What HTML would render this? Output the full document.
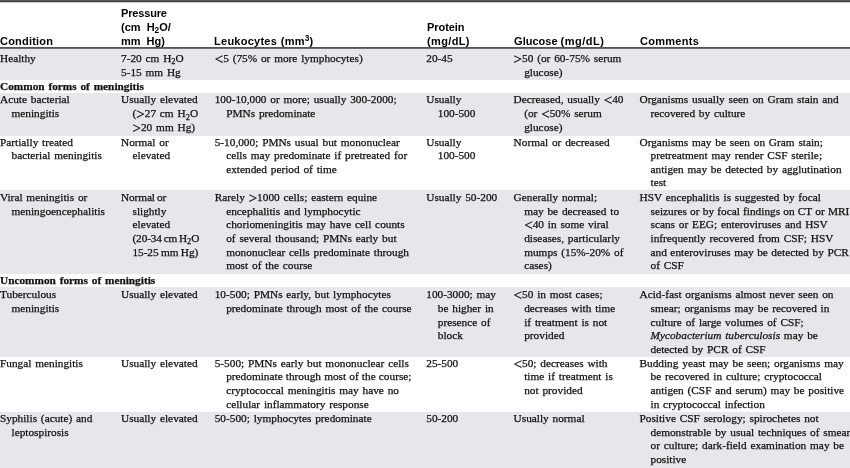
<!DOCTYPE html>
<html><head><meta charset="utf-8"><title>CSF findings in meningitis</title>
<style>
html,body{margin:0;padding:0;background:#fff;}
#t{position:relative;width:850px;height:468px;overflow:hidden;background:#fff;font-family:"Liberation Serif","Times New Roman",serif;font-size:11.3px;line-height:13.7px;color:#111;letter-spacing:0px;word-spacing:1.0px;}
.r{position:absolute;left:0;width:850px;}
.c{position:absolute;white-space:nowrap;-webkit-text-stroke:0.25px #111;}
.c div.i{padding-left:11.5px;}
.h{position:absolute;white-space:nowrap;font-family:"Liberation Sans",Arial,sans-serif;font-weight:bold;font-size:11px;line-height:14px;color:#000;letter-spacing:-0.08px;word-spacing:3.0px;}
sub,sup{font-size:75%;line-height:0;position:relative;vertical-align:baseline;}
sub{top:0.3em;} sup{top:-0.4em;}
b{font-weight:bold;}
.g{font-size:15px;line-height:0;position:relative;top:2px;-webkit-text-stroke:0.3px #111;}
</style></head><body>
<div id="t">
<div style="position:absolute;left:0;top:0;width:850px;height:1px;background:#585858"></div>
<div style="position:absolute;left:0;top:1px;width:850px;height:1px;background:#3e3e3e"></div>
<div style="position:absolute;left:0;top:2px;width:850px;height:1px;background:#cfcfcf"></div>
<div style="position:absolute;left:0;top:47px;width:850px;height:1px;background:#555558"></div>
<div style="position:absolute;left:0;top:48px;width:850px;height:1px;background:#6c6c70"></div>

<div class="h" style="left:0.1px;top:33.7px"><div style="letter-spacing:0.18px"><span>Condition</span></div></div>
<div class="h" style="left:121.1px;top:5.7px"><div style="letter-spacing:-0.18px"><span>Pressure</span></div><div style="letter-spacing:-0.02px"><span>(cm H<sub>2</sub>O/</span></div><div style="letter-spacing:-0.03px"><span>mm Hg)</span></div></div>
<div class="h" style="left:214.1px;top:33.7px"><div style="letter-spacing:0.24px;word-spacing:0.5px"><span>Leukocytes (mm<sup>3</sup>)</span></div></div>
<div class="h" style="left:427.1px;top:19.7px"><div><span>Protein</span></div><div style="letter-spacing:0.35px"><span>(mg/dL)</span></div></div>
<div class="h" style="left:514.1px;top:33.7px"><div style="letter-spacing:0px;word-spacing:-0.1px"><span>Glucose <span style="letter-spacing:0.5px">(mg/dL)</span></span></div></div>
<div class="h" style="left:640.1px;top:33.7px"><div style="letter-spacing:0.26px"><span>Comments</span></div></div>
<div class="r" style="top:49px;height:31px;background:#e6e6eb"></div>
<div class="r" style="top:80px;height:13px;background:#ffffff"></div>
<div class="r" style="top:93px;height:42.6px;background:#e6e6eb"></div>
<div class="r" style="top:135.6px;height:53.9px;background:#ffffff"></div>
<div class="r" style="top:189.5px;height:84.2px;background:#e6e6eb"></div>
<div class="r" style="top:273.7px;height:13.7px;background:#ffffff"></div>
<div class="r" style="top:287.4px;height:69.3px;background:#e6e6eb"></div>
<div class="r" style="top:356.7px;height:55.0px;background:#ffffff"></div>
<div class="r" style="top:411.7px;height:56.3px;background:#e6e6eb"></div>
<div class="c" style="left:0px;top:51.9px;line-height:13.7px"><div><span>Healthy</span></div></div>
<div class="c" style="left:121px;top:51.9px;line-height:13.7px"><div><span>7-20 cm H<sub>2</sub>O</span></div><div><span>5-15 mm Hg</span></div></div>
<div class="c" style="left:214.7px;top:51.9px;line-height:13.7px"><div><span><span class="g">&lt;</span>5 (75% or more lymphocytes)</span></div></div>
<div class="c" style="left:426.25px;top:51.9px;line-height:13.7px"><div><span>20-45</span></div></div>
<div class="c" style="left:513.6px;top:51.9px;line-height:13.7px"><div><span><span class="g">&gt;</span>50 (or 60-75% serum</span></div><div style="padding-left:10.6px"><span>glucose)</span></div></div>
<div class="c" style="left:0px;top:80px;line-height:13.7px"><div><span><b>Common forms of meningitis</b></span></div></div>
<div class="c" style="left:0px;top:93.4px;line-height:13.7px"><div><span>Acute bacterial</span></div><div style="padding-left:11.5px"><span>meningitis</span></div></div>
<div class="c" style="left:121px;top:93.4px;line-height:13.7px"><div><span>Usually elevated</span></div><div style="padding-left:11.5px"><span>(<span class="g">&gt;</span>27 cm H<sub>2</sub>O</span></div><div style="padding-left:11.5px"><span><span class="g">&gt;</span>20 mm Hg)</span></div></div>
<div class="c" style="left:214.7px;top:93.4px;line-height:13.7px"><div><span>100-10,000 or more; usually 300-2000;</span></div><div style="padding-left:11.5px"><span>PMNs predominate</span></div></div>
<div class="c" style="left:426.25px;top:93.4px;line-height:13.7px"><div><span>Usually</span></div><div style="padding-left:11.5px"><span>100-500</span></div></div>
<div class="c" style="left:513.6px;top:93.4px;line-height:13.7px"><div><span>Decreased, usually <span class="g">&lt;</span>40</span></div><div style="padding-left:10.6px"><span>(or <span class="g">&lt;</span>50% serum</span></div><div style="padding-left:10.6px"><span>glucose)</span></div></div>
<div class="c" style="left:639.5px;top:93.4px;line-height:13.7px"><div><span>Organisms usually seen on Gram stain and</span></div><div style="padding-left:11.0px"><span>recovered by culture</span></div></div>
<div class="c" style="left:0px;top:135.6px;line-height:13.5px"><div><span>Partially treated</span></div><div style="padding-left:11.5px"><span>bacterial meningitis</span></div></div>
<div class="c" style="left:121px;top:135.6px;line-height:13.5px"><div><span>Normal or</span></div><div style="padding-left:11.5px"><span>elevated</span></div></div>
<div class="c" style="left:214.7px;top:135.6px;line-height:13.5px"><div><span>5-10,000; PMNs usual but mononuclear</span></div><div style="padding-left:11.5px"><span>cells may predominate if pretreated for</span></div><div style="padding-left:11.5px"><span>extended period of time</span></div></div>
<div class="c" style="left:426.25px;top:135.6px;line-height:13.5px"><div><span>Usually</span></div><div style="padding-left:11.5px"><span>100-500</span></div></div>
<div class="c" style="left:513.6px;top:135.6px;line-height:13.5px"><div><span>Normal or decreased</span></div></div>
<div class="c" style="left:639.5px;top:135.6px;line-height:13.5px"><div><span>Organisms may be seen on Gram stain;</span></div><div style="padding-left:11.0px"><span>pretreatment may render CSF sterile;</span></div><div style="padding-left:11.0px"><span>antigen may be detected by agglutination</span></div><div style="padding-left:11.0px"><span>test</span></div></div>
<div class="c" style="left:0px;top:191px;line-height:13.64px"><div><span>Viral meningitis or</span></div><div style="padding-left:11.5px"><span>meningoencephalitis</span></div></div>
<div class="c" style="left:121px;top:191px;line-height:13.64px"><div style="word-spacing:-0.7px;letter-spacing:-0.1px"><span>Normal or</span></div><div style="padding-left:11.5px"><span>slightly</span></div><div style="padding-left:11.5px"><span>elevated</span></div><div style="padding-left:11.5px;word-spacing:-0.8px;letter-spacing:-0.14px"><span>(20-34 cm H<sub>2</sub>O</span></div><div style="padding-left:11.5px;word-spacing:-0.3px;letter-spacing:-0.07px"><span>15-25 mm Hg)</span></div></div>
<div class="c" style="left:214.7px;top:191px;line-height:13.64px"><div><span>Rarely <span class="g">&gt;</span>1000 cells; eastern equine</span></div><div style="padding-left:11.5px"><span>encephalitis and lymphocytic</span></div><div style="padding-left:11.5px"><span>choriomeningitis may have cell counts</span></div><div style="padding-left:11.5px"><span>of several thousand; PMNs early but</span></div><div style="padding-left:11.5px"><span>mononuclear cells predominate through</span></div><div style="padding-left:11.5px"><span>most of the course</span></div></div>
<div class="c" style="left:426.25px;top:191px;line-height:13.64px"><div><span>Usually 50-200</span></div></div>
<div class="c" style="left:513.6px;top:191px;line-height:13.64px"><div><span>Generally normal;</span></div><div style="padding-left:10.6px"><span>may be decreased to</span></div><div style="padding-left:10.6px"><span><span class="g">&lt;</span>40 in some viral</span></div><div style="padding-left:10.6px"><span>diseases, particularly</span></div><div style="padding-left:10.6px"><span>mumps (15%-20% of</span></div><div style="padding-left:10.6px"><span>cases)</span></div></div>
<div class="c" style="left:639.5px;top:191px;line-height:13.64px"><div><span>HSV encephalitis is suggested by focal</span></div><div style="padding-left:11.0px;word-spacing:0.4px"><span>seizures or by focal findings on CT or MRI</span></div><div style="padding-left:11.0px"><span>scans or EEG; enteroviruses and HSV</span></div><div style="padding-left:11.0px"><span>infrequently recovered from CSF; HSV</span></div><div style="padding-left:11.0px;word-spacing:0.73px"><span>and enteroviruses may be detected by PCR</span></div><div style="padding-left:11.0px"><span>of CSF</span></div></div>
<div class="c" style="left:0px;top:274px;line-height:13.7px"><div><span><b>Uncommon forms of meningitis</b></span></div></div>
<div class="c" style="left:0px;top:288.2px;line-height:13.7px"><div><span>Tuberculous</span></div><div style="padding-left:11.5px"><span>meningitis</span></div></div>
<div class="c" style="left:121px;top:288.2px;line-height:13.7px"><div><span>Usually elevated</span></div></div>
<div class="c" style="left:214.7px;top:288.2px;line-height:13.7px"><div><span>10-500; PMNs early, but lymphocytes</span></div><div style="padding-left:11.5px"><span>predominate through most of the course</span></div></div>
<div class="c" style="left:426.25px;top:288.2px;line-height:13.7px"><div><span>100-3000; may</span></div><div style="padding-left:11.5px"><span>be higher in</span></div><div style="padding-left:11.5px"><span>presence of</span></div><div style="padding-left:11.5px"><span>block</span></div></div>
<div class="c" style="left:513.6px;top:288.2px;line-height:13.7px"><div><span><span class="g">&lt;</span>50 in most cases;</span></div><div style="padding-left:10.6px"><span>decreases with time</span></div><div style="padding-left:10.6px"><span>if treatment is not</span></div><div style="padding-left:10.6px"><span>provided</span></div></div>
<div class="c" style="left:639.5px;top:288.2px;line-height:13.7px"><div><span>Acid-fast organisms almost never seen on</span></div><div style="padding-left:11.0px"><span>smear; organisms may be recovered in</span></div><div style="padding-left:11.0px"><span>culture of large volumes of CSF;</span></div><div style="padding-left:11.0px"><span><i>Mycobacterium tuberculosis</i> may be</span></div><div style="padding-left:11.0px"><span>detected by PCR of CSF</span></div></div>
<div class="c" style="left:0px;top:356.6px;line-height:13.7px"><div><span>Fungal meningitis</span></div></div>
<div class="c" style="left:121px;top:356.6px;line-height:13.7px"><div><span>Usually elevated</span></div></div>
<div class="c" style="left:214.7px;top:356.6px;line-height:13.7px"><div><span>5-500; PMNs early but mononuclear cells</span></div><div style="padding-left:11.5px;word-spacing:0.35px"><span>predominate through most of the course;</span></div><div style="padding-left:11.5px"><span>cryptococcal meningitis may have no</span></div><div style="padding-left:11.5px"><span>cellular inflammatory response</span></div></div>
<div class="c" style="left:426.25px;top:356.6px;line-height:13.7px"><div><span>25-500</span></div></div>
<div class="c" style="left:513.6px;top:356.6px;line-height:13.7px"><div><span><span class="g">&lt;</span>50; decreases with</span></div><div style="padding-left:10.6px"><span>time if treatment is</span></div><div style="padding-left:10.6px"><span>not provided</span></div></div>
<div class="c" style="left:639.5px;top:356.6px;line-height:13.7px"><div><span>Budding yeast may be seen; organisms may</span></div><div style="padding-left:11.0px"><span>be recovered in culture; cryptococcal</span></div><div style="padding-left:11.0px"><span>antigen (CSF and serum) may be positive</span></div><div style="padding-left:11.0px"><span>in cryptococcal infection</span></div></div>
<div class="c" style="left:0px;top:412px;line-height:13.7px"><div><span>Syphilis (acute) and</span></div><div style="padding-left:11.5px"><span>leptospirosis</span></div></div>
<div class="c" style="left:121px;top:412px;line-height:13.7px"><div><span>Usually elevated</span></div></div>
<div class="c" style="left:214.7px;top:412px;line-height:13.7px"><div><span>50-500; lymphocytes predominate</span></div></div>
<div class="c" style="left:426.25px;top:412px;line-height:13.7px"><div><span>50-200</span></div></div>
<div class="c" style="left:513.6px;top:412px;line-height:13.7px"><div><span>Usually normal</span></div></div>
<div class="c" style="left:639.5px;top:412px;line-height:13.7px"><div><span>Positive CSF serology; spirochetes not</span></div><div style="padding-left:11.0px"><span>demonstrable by usual techniques of smear</span></div><div style="padding-left:11.0px"><span>or culture; dark-field examination may be</span></div><div style="padding-left:11.0px"><span>positive</span></div></div>
</div></body></html>
